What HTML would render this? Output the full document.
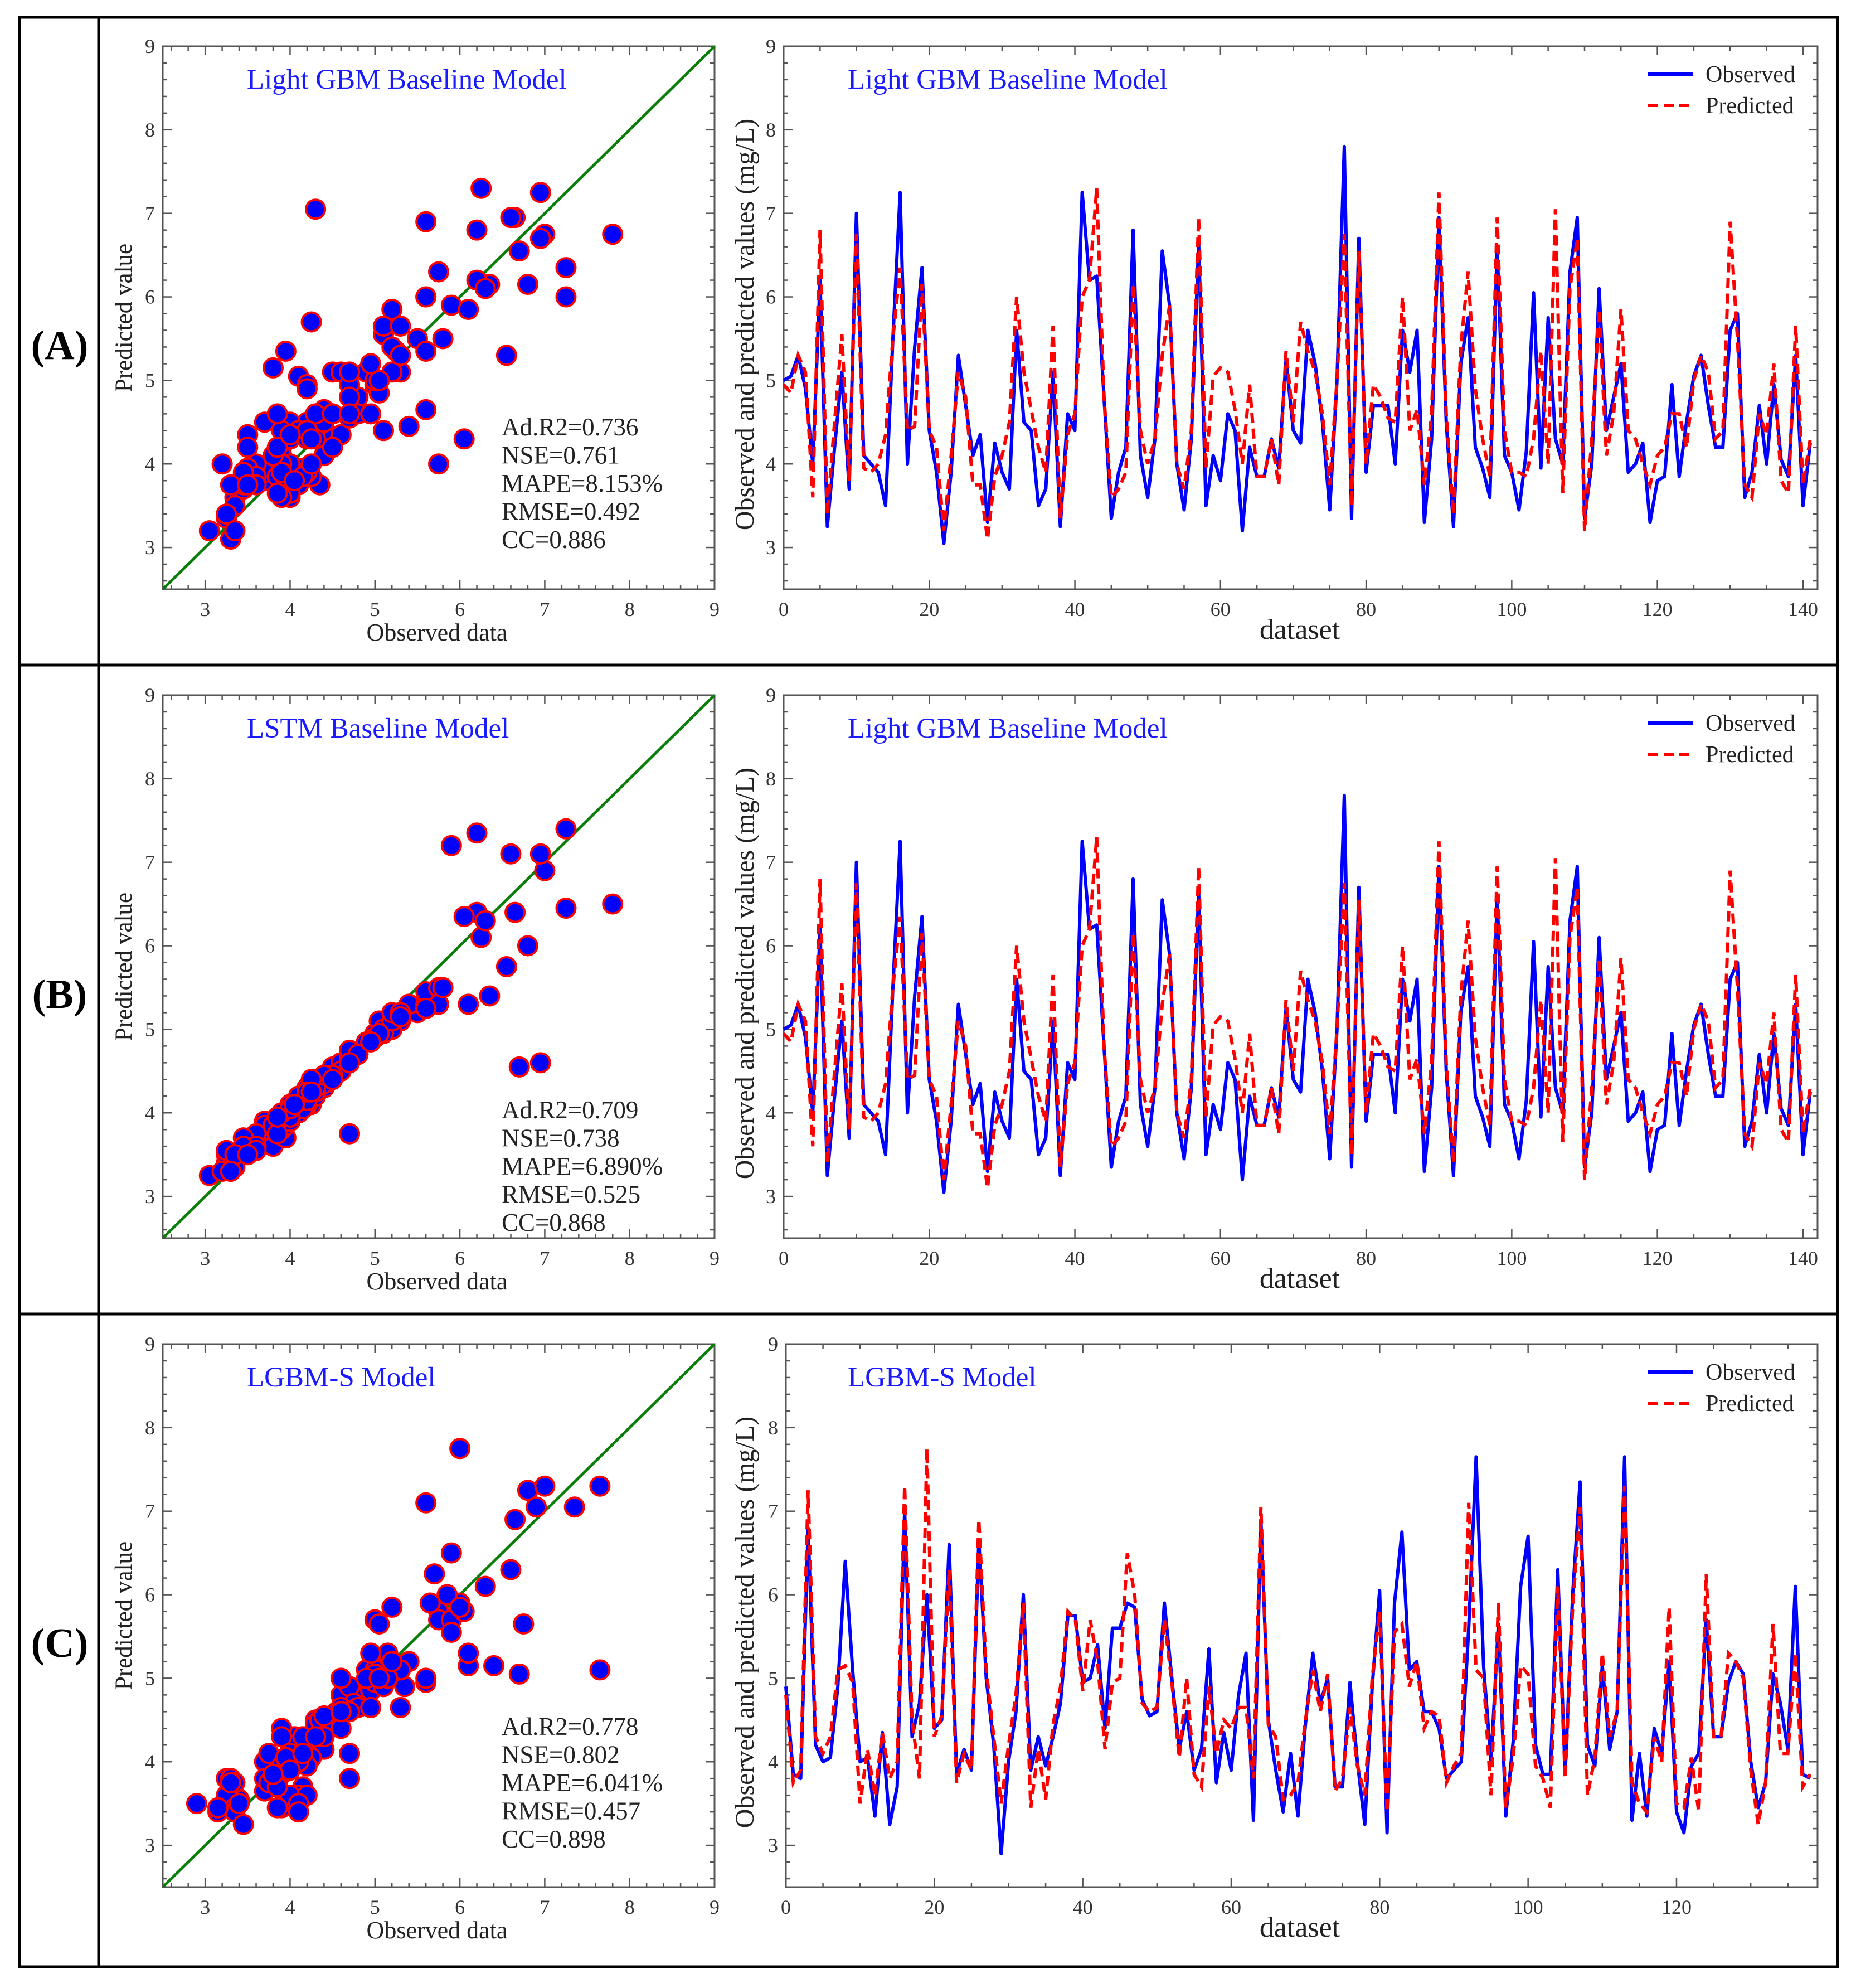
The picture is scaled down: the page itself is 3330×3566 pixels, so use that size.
<!DOCTYPE html>
<html><head><meta charset="utf-8">
<style>
html,body{margin:0;padding:0;background:#fff;}
svg{display:block;}
text{font-family:"Liberation Serif",serif;}
</style></head>
<body>
<svg id="fig" xmlns="http://www.w3.org/2000/svg" width="3330" height="3566" viewBox="0 0 3330 3566"></svg>
<script>
// ---------- DATA ----------
const obsA = [5.0,5.05,5.3,4.9,4.0,6.2,3.25,4.2,5.1,3.7, 7.0,4.1,4.0,3.9,3.5,5.5,7.25,4.0,5.4,6.35, 4.4,3.9,3.05,3.9,5.3,4.7,4.1,4.35,3.3,4.25, 3.9,3.7,5.6,4.5,4.4,3.5,3.7,5.1,3.25,4.6, 4.4,7.25,6.2,6.25,4.8,3.35,3.9,4.2,6.8,4.1, 3.6,4.3,6.55,5.9,4.0,3.45,4.3,6.65,3.5,4.1, 3.8,4.6,4.4,3.2,4.2,3.85,3.85,4.3,3.95,5.25, 4.4,4.25,5.6,5.2,4.5,3.45,5.0,7.8,3.35,6.7, 3.9,4.7,4.7,4.7,4.0,5.6,5.1,5.6,3.3,4.3, 6.95,4.5,3.25,5.2,5.75,4.2,3.95,3.6,6.6,4.1, 3.9,3.45,4.15,6.05,3.95,5.75,4.3,4.0,6.3,6.95, 3.35,4.0,6.1,4.4,4.8,5.2,3.9,4.0,4.25,3.3, 3.8,3.85,4.95,3.85,4.5,5.05,5.3,4.7,4.2,4.2, 5.6,5.8,3.6,3.9,4.7,4.0,4.95,4.05,3.85,5.3, 3.5,4.25];
const predA = [4.95,4.85,5.3,5.1,3.6,6.8,3.4,4.5,5.55,3.8, 6.75,3.95,3.9,4.0,4.35,5.5,6.35,4.4,4.45,6.15, 4.4,4.2,3.2,4.1,5.1,4.8,3.75,3.75,3.1,3.85, 4.1,4.5,6.0,5.1,4.65,4.2,3.9,5.65,3.35,4.35, 4.6,6.0,6.2,7.3,4.8,3.6,3.7,3.9,6.15,4.4, 4.0,4.3,5.3,5.9,4.0,3.7,4.4,6.95,3.95,5.05, 5.15,5.1,4.65,4.0,4.95,3.85,3.85,4.3,3.75,5.35, 4.5,5.7,5.35,5.1,4.6,3.75,5.0,6.75,3.5,6.55, 4.0,4.95,4.8,4.55,4.5,6.0,4.4,4.65,3.75,4.6, 7.25,4.6,3.4,5.4,6.3,4.9,4.3,3.85,6.95,4.4, 3.9,3.9,3.85,4.3,5.35,4.0,7.05,3.65,6.1,6.7, 3.2,4.3,5.85,4.1,4.6,5.85,4.4,4.3,4.0,3.75, 4.1,4.2,4.6,4.6,4.2,5.0,5.3,5.1,4.3,4.4, 6.9,5.5,3.75,3.6,4.6,4.35,5.2,3.8,3.65,5.65, 3.75,4.3];
const lstmPred = [4.95,5.1,5.2,4.85,4.1,6.4,3.4,4.3,5.0,3.9, 6.9,4.2,4.05,3.7,3.55,5.2,7.4,4.1,5.3,5.4, 4.45,3.95,3.25,3.75,5.1,4.6,4.0,4.3,3.4,4.1, 3.85,3.8,5.3,4.55,4.35,3.6,3.85,5.0,3.5,4.6, 4.3,6.45,7.35,6.1,4.7,3.35,4.0,4.15,6.0,4.05, 3.75,4.4,5.75,7.2,4.05,3.55,4.2,6.4,3.5,4.2, 3.6,4.5,4.4,3.3,4.1,3.8,3.95,4.2,3.7,5.15, 4.35,4.3,5.25,5.0,4.45,3.7,4.9,6.5,3.5,4.55, 3.95,4.65,4.6,4.75,4.05,5.3,4.95,5.45,3.3,4.25, 4.6,4.4,3.55,5.1,5.5,4.3,3.9,3.6,7.1,4.0, 3.8,3.6,4.05,6.35,3.85,5.3,4.3,3.9,6.3,7.1, 3.5,3.95,5.3,4.45,4.7,5.2,4.0,3.95,4.4,3.3, 3.85,3.75,4.85,3.95,4.4,4.95,5.2,3.75,4.15,4.25, 5.25,5.5,3.55,4.0,4.6,4.05,4.85,4.1,3.95,5.15, 3.5,4.25];
const obsC = [4.9,3.85,3.8,6.8,4.2,4.0,4.05,4.9,6.4,5.1, 4.0,4.05,3.35,4.35,3.25,3.7,7.0,4.3,4.7,6.0, 4.4,4.5,6.6,3.85,4.15,3.9,6.65,5.0,4.2,2.9, 4.0,4.6,6.0,3.9,4.3,3.95,4.3,4.7,5.75,5.75, 4.95,5.0,5.4,4.4,5.6,5.6,5.9,5.85,4.75,4.55, 4.6,5.9,5.0,4.15,4.6,3.9,4.15,5.35,3.75,4.35, 3.9,4.8,5.3,3.3,6.9,4.5,3.9,3.4,4.1,3.35, 4.45,5.3,4.7,5.0,3.7,3.7,4.95,4.0,3.25,4.9, 6.05,3.15,5.9,6.75,5.1,5.2,4.6,4.6,4.4,3.8, 3.9,4.0,5.6,7.65,5.15,4.0,5.65,3.35,4.25,6.1, 6.7,4.2,3.85,3.85,6.3,3.85,6.0,7.35,4.2,3.95, 5.15,4.15,4.6,7.65,3.3,4.1,3.35,4.4,4.1,5.2, 3.4,3.15,3.95,4.1,5.7,4.3,4.3,4.95,5.2,5.05, 4.0,3.45,3.75,5.05,4.7,4.15,6.1,3.85,3.8];
const predC = [4.8,3.75,3.9,7.25,4.3,4.1,4.3,5.1,5.15,4.95, 3.5,4.15,3.6,4.35,3.8,4.0,7.3,4.5,3.8,7.75, 4.3,4.55,6.3,3.75,4.1,3.9,6.9,5.1,4.3,3.5, 4.2,4.8,5.9,3.45,4.15,3.55,4.45,4.9,5.8,5.7, 4.85,5.7,5.2,4.15,4.95,5.0,6.5,6.0,4.7,4.6, 4.65,5.7,4.95,4.05,5.0,3.85,3.7,4.9,4.1,4.5, 4.4,4.65,4.65,3.8,7.05,4.45,4.3,3.55,3.6,3.75, 4.5,5.1,4.6,5.05,3.65,3.8,4.65,3.95,3.6,5.0, 5.8,3.4,5.55,5.65,4.9,5.2,4.4,4.6,4.55,3.75, 3.95,4.1,7.1,5.1,5.0,3.6,5.9,3.45,4.05,5.15, 5.05,3.95,3.8,3.45,6.1,3.8,5.85,7.05,3.6,4.05, 5.3,4.3,4.6,7.3,3.75,3.5,3.4,4.3,4.0,5.85, 3.5,3.45,4.05,3.4,6.25,4.3,4.3,5.3,5.2,5.0, 3.9,3.25,3.75,5.65,4.1,4.1,5.3,3.7,3.85];
const xTicksScatter = [3,4,5,6,7,8,9];
const yTicks = [3,4,5,6,7,8,9];
const xTicksSeries = [0,20,40,60,80,100,120,140];
const xTicksSeriesC = [0,20,40,60,80,100,120];
const metricsA = ["Ad.R2=0.736","NSE=0.761","MAPE=8.153%","RMSE=0.492","CC=0.886"];
const metricsB = ["Ad.R2=0.709","NSE=0.738","MAPE=6.890%","RMSE=0.525","CC=0.868"];
const metricsC = ["Ad.R2=0.778","NSE=0.802","MAPE=6.041%","RMSE=0.457","CC=0.898"];

// ---------- DRAW ----------
const NS = "http://www.w3.org/2000/svg";
const svg = document.getElementById('fig');
function mk(tag, attrs, parent) {
  const e = document.createElementNS(NS, tag);
  for (const k in attrs) e.setAttribute(k, attrs[k]);
  (parent || svg).appendChild(e);
  return e;
}
function txt(s, attrs, parent) { const t = mk('text', attrs, parent); t.textContent = s; return t; }

let fr = mk('rect', {x:35,y:31,width:3262,height:3497,fill:'none',stroke:'#000','stroke-width':5});


let vl = mk('line', {x1:177,y1:31,x2:177,y2:3528,stroke:'#000','stroke-width':5});


[1193,2357].forEach(function(y){
  const l = mk('line', {x1:35,y1:y,x2:3297,y2:y,stroke:'#000','stroke-width':5});
  
  
});

function axesFrame(g, L, R, T, B, xmin, xmax, xTicks, xMinorStep, name) {
  const sx = v => L + (v - xmin) / (xmax - xmin) * (R - L);
  const sy = v => B - (v - 2.5) / (9 - 2.5) * (B - T);
  const fb = mk('rect', {x:L,y:T,width:R-L,height:B-T,fill:'none',stroke:'#555','stroke-width':3}, g);
  
  
  for (let v = Math.ceil(xmin / xMinorStep) * xMinorStep; v <= xmax + 1e-9; v += xMinorStep) {
    const major = xTicks.some(t => Math.abs(t - v) < 1e-6);
    const len = major ? 16 : 8;
    mk('line', {x1:sx(v),y1:B,x2:sx(v),y2:B-len,stroke:'#555','stroke-width':2.5}, g);
    mk('line', {x1:sx(v),y1:T,x2:sx(v),y2:T+len,stroke:'#555','stroke-width':2.5}, g);
  }
  for (let v = 2.6; v <= 9.0001; v += 0.2) {
    const major = Math.abs(v - Math.round(v)) < 1e-6;
    const len = major ? 16 : 8;
    mk('line', {x1:L,y1:sy(v),x2:L+len,y2:sy(v),stroke:'#555','stroke-width':2.5}, g);
    mk('line', {x1:R,y1:sy(v),x2:R-len,y2:sy(v),stroke:'#555','stroke-width':2.5}, g);
  }
  xTicks.forEach(function(t){
    const e = txt(String(t), {x:sx(t),y:B+48,'font-size':36,'text-anchor':'middle',fill:'#333'}, g);
    
    
  });
  yTicks.forEach(function(t){
    const e = txt(String(t), {x:L-14,y:sy(t)+12,'font-size':36,'text-anchor':'end',fill:'#333'}, g);
    
    
  });
  return {sx, sy};
}

function scatterPanel(oy, title, xs, ys, metrics, metricY) {
  const g = mk('g', {});
  
  
  const L = 292, R = 1282, T = 83 + oy, B = 1057 + oy;
  const clipId = 'clip' + oy;
  const cp = mk('clipPath', {id:clipId}, g);
  mk('rect', {x:L,y:T,width:R-L,height:B-T}, cp);
  const ax = axesFrame(g, L, R, T, B, 2.5, 9, xTicksScatter, 0.2, 'scatter');
  const dg = mk('line', {x1:ax.sx(2.5),y1:ax.sy(2.5),x2:ax.sx(9),y2:ax.sy(9),stroke:'#0a7d0a','stroke-width':5,'clip-path':'url(#'+clipId+')'}, g);
  
  
  for (let i = 0; i < xs.length; i++) {
    const c = mk('circle', {cx:ax.sx(xs[i]),cy:ax.sy(ys[i]),r:17,fill:'#0000ff',stroke:'#ff0000','stroke-width':4}, g);
    
    
  }
  const t = txt(title, {x:443,y:159+oy,'font-size':51,fill:'#1a1aff'}, g);
  
  
  metrics.forEach(function(m, i){
    const e = txt(m, {x:900,y:metricY + i*50.5 + oy,'font-size':45,fill:'#222'}, g);
    
    
  });
  const yl = txt('Predicted value', {x:0,y:0,'font-size':43,'text-anchor':'middle',fill:'#222',transform:'translate(236,'+(570+oy)+') rotate(-90)'}, g);
  
  
  const xl = txt('Observed data', {x:784,y:1149+oy,'font-size':44,'text-anchor':'middle',fill:'#222'}, g);
  
  
}

function seriesPanel(oy, title, obs, pred, xmax, xTicks, L0) {
  const g = mk('g', {});
  
  
  const L = L0, R = 3261, T = 83 + oy, B = 1057 + oy;
  const ax = axesFrame(g, L, R, T, B, 0, xmax, xTicks, 5, 'series');
  const pts = a => a.map((v, i) => ax.sx(i).toFixed(1) + ',' + ax.sy(v).toFixed(1)).join(' ');
  const po = mk('polyline', {points:pts(obs),fill:'none',stroke:'#0000ff','stroke-width':6,'stroke-linejoin':'round'}, g);
  
  
  const pp = mk('polyline', {points:pts(pred),fill:'none',stroke:'#ff0000','stroke-width':6,'stroke-dasharray':'18,10'}, g);
  
  
  const t = txt(title, {x:1521,y:159+oy,'font-size':51,fill:'#1a1aff'}, g);
  
  
  const lg = mk('g', {}, g);
  
  
  mk('line', {x1:2957,y1:133+oy,x2:3037,y2:133+oy,stroke:'#0000ff','stroke-width':6}, lg);
  mk('line', {x1:2957,y1:189+oy,x2:3037,y2:189+oy,stroke:'#ff0000','stroke-width':6,'stroke-dasharray':'18,10'}, lg);
  const l1 = txt('Observed', {x:3060,y:147+oy,'font-size':42,fill:'#222'}, lg);
  
  
  const l2 = txt('Predicted', {x:3060,y:203+oy,'font-size':42,fill:'#222'}, lg);
  
  
  const yl = txt('Observed and predicted values (mg/L)', {x:0,y:0,'font-size':48,'text-anchor':'middle',fill:'#222',transform:'translate(1352,'+(582+oy)+') rotate(-90)'}, g);
  
  
  const xl = txt('dataset', {x:2332,y:1146+oy,'font-size':52,'text-anchor':'middle',fill:'#222'}, g);
  
  
}

function panelLabel(s, y) {
  const e = txt(s, {x:107,y:y,'font-size':74,'font-weight':'bold','text-anchor':'middle',fill:'#000'});
  
  
}

scatterPanel(0, 'Light GBM Baseline Model', obsA, predA, metricsA, 781);
seriesPanel(0, 'Light GBM Baseline Model', obsA, predA, 142, xTicksSeries, 1406);
panelLabel('(A)', 644);

scatterPanel(1164, 'LSTM Baseline Model', obsA, lstmPred, metricsB, 842);
seriesPanel(1164, 'Light GBM Baseline Model', obsA, predA, 142, xTicksSeries, 1406);
panelLabel('(B)', 1808);

scatterPanel(2328, 'LGBM-S Model', obsC, predC, metricsC, 784);
seriesPanel(2328, 'LGBM-S Model', obsC, predC, 139, xTicksSeriesC, 1410);
panelLabel('(C)', 2972);
</script>
</body></html>
